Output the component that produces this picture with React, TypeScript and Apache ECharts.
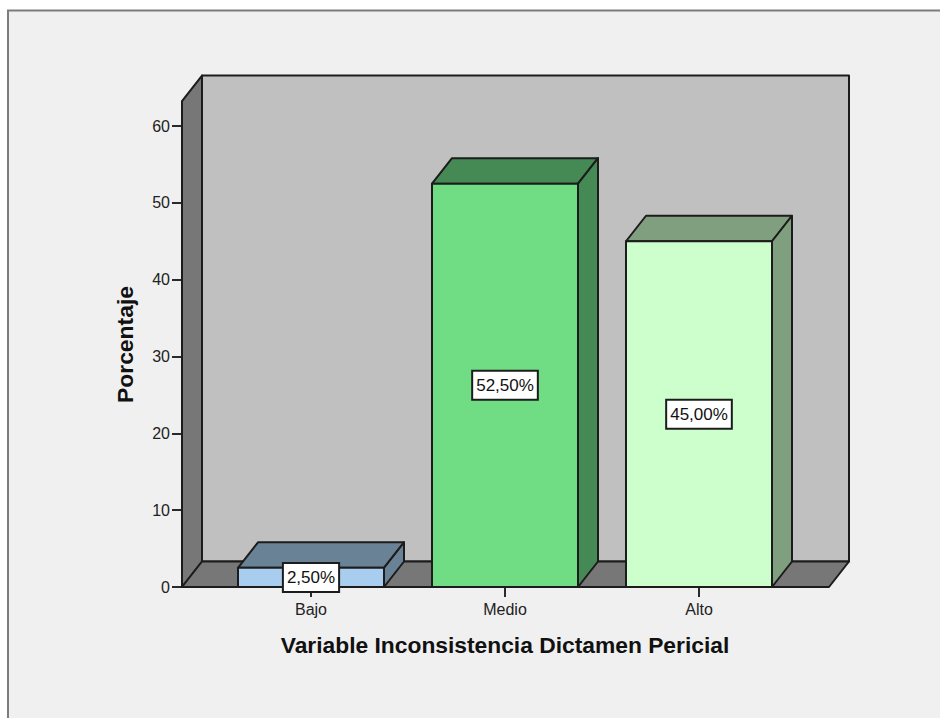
import React, { useEffect, useRef } from "react";
import * as echarts from "echarts";

const categories = ["Bajo", "Medio", "Alto"];
const values = [2.5, 52.5, 45.0];
const valueLabels = ["2,50%", "52,50%", "45,00%"];
const frontColors = ["#a9cdee", "#70dd85", "#ccffcc"];
const topColors = ["#6a8296", "#458a55", "#7f9f7f"];
const yTicks = [0, 10, 20, 30, 40, 50, 60];
const wallTopValue = 63.25;

const DX = 20;
const DY = 25.5;
const STROKE = "#1c1c1c";
const FONT = "'Liberation Sans', Arial, sans-serif";

export default function App() {
  const ref = useRef<HTMLDivElement>(null);
  useEffect(() => {
    const chart = echarts.init(ref.current!, undefined, { renderer: "svg" });
    const line = { stroke: STROKE, lineWidth: 2, lineJoin: "round" };
    chart.setOption({
      animation: false,
      backgroundColor: "#ffffff",
      graphic: [
        { type: "rect", z: -10, shape: { x: 8, y: 10, width: 932, height: 708 }, style: { fill: "#f0f0f0" } },
        { type: "polyline", z: -9, shape: { points: [[8, 718], [8, 10.5], [940, 10.5]] }, style: { stroke: "#7c7c7c", lineWidth: 2, fill: "none" } },
      ],
      grid: { left: 214, top: 126, width: 582, height: 461, containLabel: false },
      xAxis: {
        type: "category",
        data: categories,
        axisLine: { show: false },
        axisTick: { show: true, alignWithLabel: true, length: 10, lineStyle: { color: "#2a2a2a", width: 2 } },
        axisLabel: { color: "#222222", fontFamily: FONT, fontSize: 16, margin: 14 },
        name: "Variable Inconsistencia Dictamen Pericial",
        nameLocation: "middle",
        nameGap: 46,
        nameTextStyle: { color: "#111111", fontFamily: FONT, fontSize: 22.8, fontWeight: "bold" },
      },
      yAxis: {
        type: "value",
        min: yTicks[0],
        max: yTicks[yTicks.length - 1],
        interval: 10,
        offset: 32,
        axisLine: { show: false },
        axisTick: { show: true, length: 10, lineStyle: { color: "#2a2a2a", width: 2 } },
        axisLabel: { color: "#222222", fontFamily: FONT, fontSize: 16, margin: 12, padding: [4, 0, 0, 0] },
        splitLine: { show: false },
        name: "Porcentaje",
        nameLocation: "middle",
        nameGap: 46,
        nameTextStyle: { color: "#111111", fontFamily: FONT, fontSize: 22.9, fontWeight: "bold", padding: [0, 0, 0, 24] },
      },
      series: [
        {
          type: "custom",
          silent: true,
          z: 2,
          data: [[0, 0]],
          encode: { x: 0, y: 1 },
          renderItem: (params: any, api: any) => {
            const cs = params.coordSys;
            const l = cs.x - 32;
            const r = cs.x + cs.width + 33;
            const b = api.coord([0, 0])[1];
            const t = api.coord([0, wallTopValue])[1];
            return {
              type: "group",
              children: [
                { type: "polygon", shape: { points: [[l + DX, t - DY], [r + DX, t - DY], [r + DX, b - DY], [l + DX, b - DY]] }, style: { fill: "#c0c0c0", ...line } },
                { type: "polygon", shape: { points: [[l, t], [l + DX, t - DY], [l + DX, b - DY], [l, b]] }, style: { fill: "#777777", ...line } },
                { type: "polygon", shape: { points: [[l, b], [l + DX, b - DY], [r + DX, b - DY], [r, b]] }, style: { fill: "#777777", ...line } },
              ],
            };
          },
        },
        {
          type: "custom",
          silent: true,
          z: 3,
          data: values.map((v, i) => [i, v]),
          encode: { x: 0, y: 1 },
          renderItem: (params: any, api: any) => {
            const i = params.dataIndex;
            const [cx, y] = api.coord([api.value(0), api.value(1)]);
            const b = api.coord([api.value(0), 0])[1];
            const half = (api.size([1, 0])[0] * 0.7526) / 2;
            const l = cx - half;
            const r = cx + half;
            return {
              type: "group",
              children: [
                { type: "polygon", shape: { points: [[l, y], [l + DX, y - DY], [r + DX, y - DY], [r, y]] }, style: { fill: topColors[i], ...line } },
                { type: "polygon", shape: { points: [[r, y], [r + DX, y - DY], [r + DX, b - DY], [r, b]] }, style: { fill: topColors[i], ...line } },
                { type: "polygon", shape: { points: [[l, y], [r, y], [r, b], [l, b]] }, style: { fill: frontColors[i], ...line } },
              ],
            };
          },
        },
        {
          type: "custom",
          silent: true,
          z: 4,
          data: values.map((v, i) => [i, v]),
          encode: { x: 0, y: 1 },
          renderItem: (params: any, api: any) => {
            const [cx, cy] = api.coord([api.value(0), api.value(1) / 2]);
            return {
              type: "text",
              x: cx,
              y: cy,
              style: {
                text: valueLabels[params.dataIndex],
                align: "center",
                verticalAlign: "middle",
                fill: "#111111",
                font: `17px ${FONT}`,
                backgroundColor: "#ffffff",
                borderColor: "#1c1c1c",
                borderWidth: 2,
                padding: [5, 3, 5, 3],
              },
            };
          },
        },
      ],
    });
    return () => chart.dispose();
  }, []);
  return <div ref={ref} style={{ position: "fixed", left: 0, top: 0, width: 940, height: 718 }} />;
}
